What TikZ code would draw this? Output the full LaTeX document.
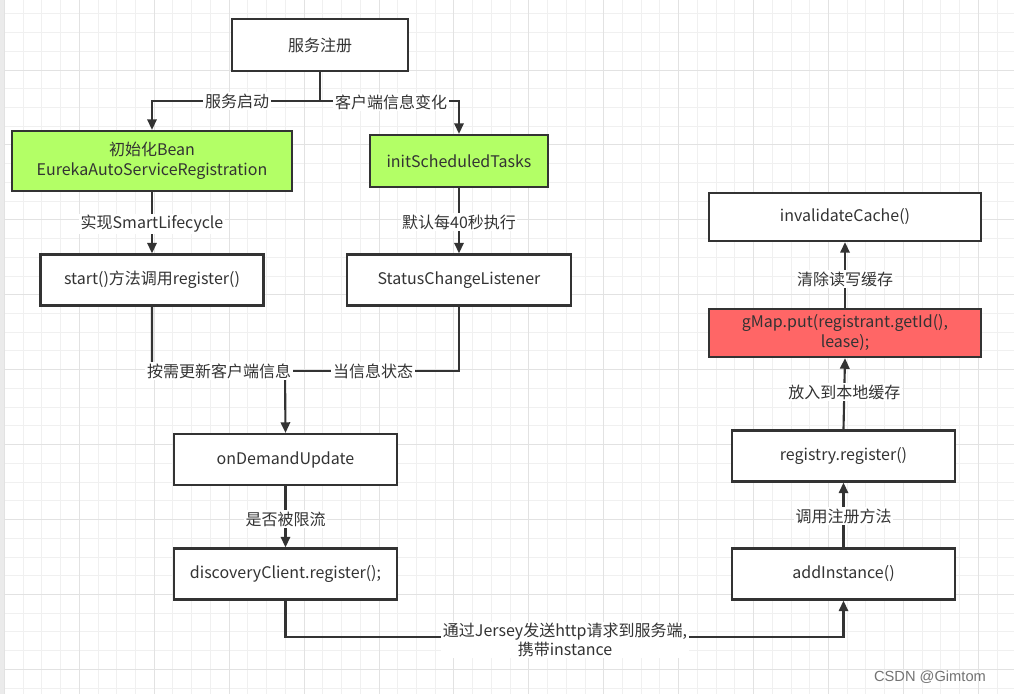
\documentclass[tikz,border=0pt]{standalone}
\usepackage{fontspec}
\setmainfont{Noto Sans CJK SC}
\newfontfamily\wmfont{Liberation Sans}
\usetikzlibrary{arrows.meta}
\definecolor{ink}{HTML}{333333}
\definecolor{gridminor}{HTML}{F0F0F0}
\definecolor{gridmajor}{HTML}{E2E2E2}
\definecolor{boxgreen}{HTML}{B3FF66}
\definecolor{boxred}{HTML}{FF6666}
\tikzset{
  box/.style={draw=ink, line width=1.6pt, fill=white, text=ink, align=center,
    inner sep=0pt, font=\fontsize{12pt}{15pt}\selectfont},
  lbl/.style={fill=white, text=ink, inner sep=1.2pt, align=center,
    font=\fontsize{12pt}{14pt}\selectfont},
  conn/.style={draw=ink, line width=1.6pt, -{Triangle[length=8pt,width=7pt]}},
}
\begin{document}
\begin{tikzpicture}[x=0.75pt,y=-0.75pt]
\useasboundingbox (0,0) rectangle (1014,694);
\fill[white] (0,0) rectangle (1014,694);
% grid
\foreach \i in {0,...,54} {
  \pgfmathsetmacro\gx{4.4+\i*18.73}
  \draw[gridminor, line width=0.75pt] (\gx,0) -- (\gx,694);
}
\foreach \i in {0,...,38} {
  \pgfmathsetmacro\gy{-4.9+\i*18.73}
  \draw[gridminor, line width=0.75pt] (0,\gy) -- (1014,\gy);
}
\foreach \i in {0,...,13} {
  \pgfmathsetmacro\gx{4.4+\i*74.93}
  \draw[gridmajor, line width=0.75pt] (\gx,0) -- (\gx,694);
}
\foreach \i in {0,...,10} {
  \pgfmathsetmacro\gy{-4.9+\i*74.93}
  \draw[gridmajor, line width=0.75pt] (0,\gy) -- (1014,\gy);
}
\fill[gridmajor!70] (0,0) rectangle (4.4,694);

% boxes
\node[box, minimum width=176*0.75pt, minimum height=52*0.75pt] (reg) at (320,45) {服务注册};
\node[box, fill=boxgreen, minimum width=280*0.75pt, minimum height=60*0.75pt] (init) at (152,161) {初始化Bean\\EurekaAutoServiceRegistration};
\node[box, fill=boxgreen, minimum width=178*0.75pt, minimum height=52*0.75pt] (sched) at (459,161) {initScheduledTasks};
\node[box, minimum width=223*0.75pt, minimum height=51*0.75pt] (start) at (152,280) {start()方法调用register()};
\node[box, minimum width=224*0.75pt, minimum height=51*0.75pt] (status) at (459,280) {StatusChangeListener};
\node[box, minimum width=223*0.75pt, minimum height=51*0.75pt] (demand) at (285.5,459.5) {onDemandUpdate};
\node[box, minimum width=223*0.75pt, minimum height=51*0.75pt] (disc) at (285.5,574) {discoveryClient.register();};
\node[box, minimum width=272*0.75pt, minimum height=48*0.75pt] (inval) at (845,217) {invalidateCache()};
\node[box, fill=boxred, minimum width=272*0.75pt, minimum height=48*0.75pt] (gmap) at (845,333) {gMap.put(registrant.getId(),\\lease);};
\node[box, minimum width=223*0.75pt, minimum height=51*0.75pt] (regis) at (843.5,456) {registry.register()};
\node[box, minimum width=223*0.75pt, minimum height=51*0.75pt] (addi) at (843.5,574) {addInstance()};

% junction coordinates
\coordinate (j1) at (320,101);
\coordinate (j2) at (285,371);
\coordinate (j3) at (843.5,637);

% connectors
\draw[conn] (reg.south) -- (j1) -| (init.north);
\draw[conn] (reg.south) -- (j1) -| (sched.north);
\node[lbl] (l1) at (237,101) {服务启动};
\node[lbl] (l2) at (391,102) {客户端信息变化};

\draw[conn] (init.south) -- (start.north) node[lbl, midway, yshift=-1pt] (l3) {实现SmartLifecycle};
\draw[conn] (sched.south) -- (status.north) node[lbl, midway, yshift=-1pt] (l4) {默认每40秒执行};

\draw[conn] (start.south) |- (j2) -- (demand.north);
\draw[ink, line width=1.6pt] (status.south) |- (j2);
\node[lbl] (l5) at (219,371) {按需更新客户端信息};
\node[lbl] (l6) at (373,371) {当信息状态};

\draw[conn] (demand.south) -- (disc.north) node[lbl, midway, yshift=-2pt] (l7) {是否被限流};

\draw[conn] (disc.south) |- (j3) -- (addi.south);
\node[lbl] (l8) at (565,640) {通过Jersey发送http请求到服务端,\\携带instance};

\draw[conn] (addi.north) -- (regis.south) node[lbl, midway, yshift=-1pt] (l9) {调用注册方法};
\draw[conn] (regis.north) -- (gmap.south) node[lbl, midway, yshift=1pt] (l10) {放入到本地缓存};
\draw[conn] (gmap.north) -- (inval.south) node[lbl, midway, yshift=-3pt] (l11) {清除读写缓存};

% watermark
\node[text=black!55, font=\wmfont\fontsize{11pt}{13pt}\selectfont, inner sep=0pt] (wm) at (930,677) {CSDN @Gimtom};
\end{tikzpicture}
\end{document}
